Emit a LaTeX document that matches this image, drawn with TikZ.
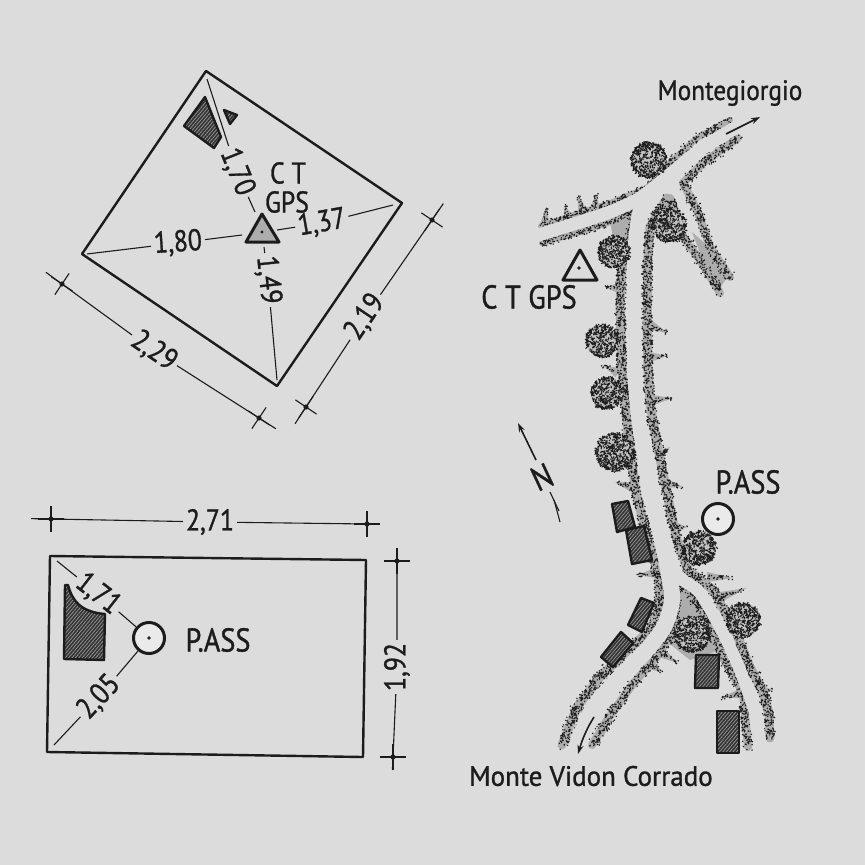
\documentclass[tikz,border=0pt]{standalone}
\usepackage{fontspec}
\setmainfont[FakeStretch=0.86,FakeBold=1]{PT Sans}
\usetikzlibrary{arrows.meta,patterns.meta,shapes.misc,calc}
\definecolor{paper}{HTML}{DCDCDC}
\definecolor{veg}{HTML}{ADADAD}
\definecolor{ink}{HTML}{1C1C1C}
\tikzset{
  plotline/.style={draw=ink,line width=2.4pt,line join=round},
  thinline/.style={draw=ink,line width=1.1pt},
  dimlabel/.style={font=\fontsize{30}{30}\selectfont,text=ink,inner sep=3pt},
  maplabel/.style={font=\fontsize{33}{33}\selectfont,text=ink,inner sep=0pt},
  tickmark/.style={cross out,draw=ink,line width=1.1pt,minimum size=17pt,inner sep=0pt},
  building/.style={draw=ink,line width=2.4pt,line join=round,preaction={fill=ink!90},
    pattern={Lines[angle=50,distance=2.6pt,line width=.7pt]},pattern color=paper!70!black},
  marker/.style={draw=ink,line width=3pt,line join=round},
  ctgps/.style={marker,fill=veg},
  pass/.style={circle,draw=ink,line width=3pt,fill=paper!60!white,minimum size=31pt,inner sep=0pt},
  pointer/.style={draw=ink,line width=1.6pt,-{Stealth[length=9pt,width=6pt]}},
  roadway/.style={draw=paper,line cap=round,line join=round},
}
\newcommand\tickat[4]{\node[tickmark,rotate=45+#4] (#1) at (#2,#3) {}; \fill[ink] (#1.center) circle (2.6);}
\newcommand\bandbg[4]{\foreach \x/\y [remember=\x as \ox (initially #2),remember=\y as \oy (initially #3)] in {#4}{
  \draw[veg,line width=#1pt,line cap=round] (\ox,\oy) -- (\x,\y);}}
\newcommand\bandst[4]{\foreach \x/\y [remember=\x as \ox (initially #2),remember=\y as \oy (initially #3)] in {#4}{
  \path (\ox,\oy) coordinate (sa) (\x,\y) coordinate (sb);
  \pgfpointdiff{\pgfpointanchor{sa}{center}}{\pgfpointanchor{sb}{center}}\pgfgetlastxy\dxx\dyy
  \pgfmathtruncatemacro\nn{max(2,veclen(\dxx,\dyy)*#1*0.32)}
  \fill[ink] \foreach \i in {1,...,\nn}{ ($(sa)!rnd!(sb)$) ++({rand*#1*0.6},{rand*#1*0.6}) circle (.8) };}}
\newcommand\spur[4]{\fill[veg] (#1,#2) -- ($(#3,#4)!5pt!90:(#1,#2)$) -- ($(#3,#4)!5pt!-90:(#1,#2)$) -- cycle;
  \bandst{3.5}{#1}{#2}{#3/#4}}
\newcommand\treeat[3]{\fill[veg!55!paper] (#1,#2) circle (#3);
  \pgfmathtruncatemacro\nna{#3*#3*1.1}
  \foreach \i in {1,...,\nna}{
    \pgfmathsetmacro\ra{#3*sqrt(rnd)}\pgfmathsetmacro\an{360*rnd}
    \draw[ink,line width=1pt] ({#1+\ra*cos(\an)},{#2+\ra*sin(\an)}) -- ++({rand*2.4},{rand*2.4});}
  \pgfmathtruncatemacro\nnb{#3*6}
  \foreach \i in {1,...,\nnb}{
    \pgfmathsetmacro\ra{#3*(.9+.1*rnd)}\pgfmathsetmacro\an{360*rnd}
    \draw[ink,line width=1pt] ({#1+\ra*cos(\an)},{#2+\ra*sin(\an)}) -- ++({rand*2.2},{rand*2.2});}}
\begin{document}
\begin{tikzpicture}[x=1pt,y=-1pt]
\pgfmathsetseed{11}
\useasboundingbox (0,0) rectangle (865,865);
\fill[paper] (0,0) rectangle (865,865);

% ---------- upper plan
\coordinate (qT) at (206,71);
\coordinate (qR) at (402,203);
\coordinate (qB) at (277,386);
\coordinate (qL) at (82,254);
\draw[plotline] (qT) -- (qR) -- (qB) -- (qL) -- cycle;
\draw[building] (205,97) -- (221,137) -- (214,148) -- (184,126) -- cycle;
\draw[building] (224,110) -- (237,115) -- (230,124) -- cycle;
\coordinate (gpsC) at (262,232);
\coordinate (gA) at (262,214);
\coordinate (gL) at (246,242);
\coordinate (gR) at (279,242);
\draw[ctgps] (gA) -- (gR) -- (gL) -- cycle;
\fill[ink] (gpsC) circle (1.6);
\node[dimlabel,rotate=-68] (d170) at (237,172) {1,70};
\node[dimlabel,rotate=4] (d180) at (178,243) {1,80};
\node[dimlabel,rotate=10] (d137) at (322,223) {1,37};
\node[dimlabel,rotate=-84] (d149) at (268,280) {1,49};
\coordinate (qT') at (207,79);
\coordinate (qL') at (87,254);
\coordinate (qR') at (393,205);
\coordinate (qB') at (277,380);
\coordinate (g1) at (255,212);
\coordinate (g2) at (242,235);
\coordinate (g3) at (277,230);
\coordinate (g4) at (264,247);
\draw[thinline] (qT') -- (d170) -- (g1);
\draw[thinline] (qL') -- (d180) -- (g2);
\draw[thinline] (qR') -- (d137) -- (g3);
\draw[thinline] (qB') -- (d149) -- (g4);
\node[dimlabel,inner sep=0pt] (ct) at (288,173) {C T};
\node[dimlabel,inner sep=0pt] (gps) at (287,202) {GPS};
\tickat{t1}{62}{284}{-34}
\tickat{t2}{259}{418}{-34}
\tickat{t3}{306}{407}{56}
\tickat{t4}{432}{220}{56}
\node[dimlabel,rotate=-34] (d229) at (154,351) {2,29};
\node[dimlabel,rotate=56] (d219) at (365,317) {2,19};
\draw[thinline] ($(t1.center)!-20pt!(d229.center)$) -- (d229) -- ($(t2.center)!-20pt!(d229.center)$);
\draw[thinline] ($(t3.center)!-20pt!(d219.center)$) -- (d219) -- ($(t4.center)!-20pt!(d219.center)$);

% ---------- lower plan
\coordinate (rTL) at (50,556);
\coordinate (rTR) at (366,560);
\coordinate (rBR) at (363,757);
\coordinate (rBL) at (47,752);
\draw[plotline] (rTL) -- (rTR) -- (rBR) -- (rBL) -- cycle;
\draw[building] (65,585) -- (68,585) .. controls (72,600) and (80,612) .. (105,614) -- (104,660) -- (64,659) -- cycle;
\node[pass] (passA) at (149,638) {};
\fill[ink] (passA.center) circle (1.8);
\node[maplabel] (passAl) at (218,640) {P.ASS};
\node[dimlabel,rotate=-38] (d171) at (98,594) {1,71};
\node[dimlabel,rotate=47] (d205) at (99,697) {2,05};
\coordinate (rTL') at (57,561);
\coordinate (rBL') at (54,745);
\draw[thinline] (rTL') -- (d171) -- (passA);
\draw[thinline] (rBL') -- (d205) -- (passA);
\tickat{t5}{51}{519}{0}
\tickat{t6}{367}{524}{0}
\tickat{t7}{397}{561}{90}
\tickat{t8}{393}{757}{90}
\node[dimlabel] (d271) at (210,522) {2,71};
\node[dimlabel,rotate=90] (d192) at (397,667) {1,92};
\draw[thinline] ($(t5.center)!-20pt!(d271.center)$) -- (d271) -- ($(t6.center)!-11pt!(d271.center)$);
\draw[thinline] ($(t7.center)!-10pt!(d192.center)$) -- (d192) -- ($(t8.center)!-13pt!(d192.center)$);

% ---------- map: vegetation ground
\fill[veg] (670,198) -- (650,226) -- (665,240) -- (683,236) -- cycle;
\fill[veg] (692,232) -- (702,258) -- (720,288) -- (728,276) -- (710,248) -- cycle;
\fill[veg] (680,585) -- (665,640) -- (690,660) -- (720,650) -- (705,615) -- cycle;
\fill[veg] (610,222) -- (642,207) -- (630,240) -- (618,262) -- cycle;
\bandbg{6}{541}{226}{577/214,613/202,647/188,670/163,697/138,730/120}
\bandbg{6}{542}{243}{577/233,610/222,640/208}
\bandbg{9}{636}{212}{630/237,622/270,620/303,621/337,622/370,625/403,628/433,636/493,648/540,659/577,660/607,650/630,628/650,600/677,577/707,562/745}
\bandbg{9}{667}{198}{650/227,647/270,647/320,648/370,650/403,655/433,667/493,677/540,688/570,713/590,735/630,749/665,762/690,769/713,770/738}
\bandbg{8}{680}{582}{673/630,660/653,632/685,607/720,592/745}
\bandbg{8}{682}{582}{703/613,723/657,743/693,748/747}
\bandbg{8}{738}{138}{703/163,683/183,697/210,710/247,730/277}
\bandbg{8}{670}{198}{683/237,700/260,720/293}
% spurs
\foreach \a/\b/\c/\d in {546/208/545/224,565/205/568/218,578/196/583/212,596/194/595/209,
  667/333/650/325,667/356/650/357,673/398/653/400,603/365/618/373,605/287/618/288,
  670/447/657/457,683/487/665/483,687/527/675/527,615/482/632/487,638/575/655/573,
  677/663/662/653,733/578/707/577,747/588/720/597,773/690/760/690,720/698/743/693,592/677/606/674,
  570/712/582/708,608/727/600/733,663/672/650/665}{
  \spur{\a}{\b}{\c}{\d}
}
\bandst{6}{541}{226}{577/214,613/202,647/188,670/163,697/138,730/120}
\bandst{6}{542}{243}{577/233,610/222,640/208}
\bandst{9}{636}{212}{630/237,622/270,620/303,621/337,622/370,625/403,628/433,636/493,648/540,659/577,660/607,650/630,628/650,600/677,577/707,562/745}
\bandst{9}{667}{198}{650/227,647/270,647/320,648/370,650/403,655/433,667/493,677/540,688/570,713/590,735/630,749/665,762/690,769/713,770/738}
\bandst{8}{680}{582}{673/630,660/653,632/685,607/720,592/745}
\bandst{8}{682}{582}{703/613,723/657,743/693,748/747}
\bandst{8}{738}{138}{703/163,683/183,697/210,710/247,730/277}
\bandst{8}{670}{198}{683/237,700/260,720/293}
% carriageways
\draw[roadway,line width=13pt] plot[smooth] coordinates {(532,237) (577,223) (610,212) (640,198) (668,176) (700,150) (745,122)};
\draw[roadway,line width=13pt] plot[smooth] coordinates {(652,192) (639,212) (634,250) (633,300) (634,370) (636,403) (640,433) (651,493)};
\draw[roadway,line width=16pt] plot[smooth] coordinates {(651,493) (662,540) (669,575) (672,600) (664,627) (644,653) (617,680) (591,712) (574,755)};
\draw[roadway,line width=12pt] plot[smooth] coordinates {(668,560) (680,578) (700,593) (723,633) (740,670) (756,717) (762,760)};
% trees
\treeat{649}{160}{18}
\treeat{669}{225}{17}
\treeat{614}{252}{16}
\treeat{602}{341}{16}
\treeat{607}{393}{16}
\treeat{615}{452}{19}
\treeat{699}{548}{17}
\treeat{743}{620}{17}
\treeat{692}{634}{18}
% buildings
\draw[building] (612,504) -- (628,501) -- (635,527) -- (617,532) -- cycle;
\draw[building] (626,530) -- (644,526) -- (652,560) -- (632,564) -- cycle;
\draw[building] (641,598) -- (654,603) -- (642,632) -- (628,625) -- cycle;
\draw[building] (621,632) -- (633,643) -- (613,667) -- (601,657) -- cycle;
\draw[building] (696,655) -- (719,655) -- (718,688) -- (695,688) -- cycle;
\draw[building] (717,711) -- (739,711) -- (739,753) -- (717,753) -- cycle;
% markers and labels
\coordinate (mA) at (580,250);
\coordinate (mL) at (563,280);
\coordinate (mR) at (597,280);
\draw[marker,fill=paper] (mA) -- (mR) -- (mL) -- cycle;
\fill[ink] (579,268) circle (1.8);
\node[maplabel] (ctgpsl) at (529,297) {C T GPS};
\node[pass] (passB) at (718,519) {};
\fill[ink] (passB.center) circle (1.8);
\node[maplabel] (passBl) at (748,482) {P.ASS};
\node[maplabel,font=\fontsize{28}{28}\selectfont,xscale=1.05] (monteg) at (730,93) {Montegiorgio};
\node[maplabel,font=\fontsize{28}{28}\selectfont,xscale=1.12] (montev) at (591,776) {Monte Vidon Corrado};
\coordinate (a1s) at (726,134);
\coordinate (a1e) at (760,117);
\coordinate (a2s) at (594,717);
\coordinate (a2e) at (578,754);
\draw[pointer] (a1s) -- (a1e);
\draw[pointer] (a2s) .. controls (587,728) and (582,740) .. (a2e);
% north
\coordinate (ns) at (536,460);
\coordinate (ne) at (518,423);
\draw[pointer] (ns) -- (ne);
\node[maplabel,font=\fontsize{34}{34}\selectfont,rotate=25] (north) at (542,477) {N};
\coordinate (n1a) at (550,492);
\coordinate (n1b) at (559,511);
\coordinate (n2a) at (554,500);
\coordinate (n2b) at (560,522);
\draw[thinline] (n1a) -- (n1b);
\draw[thinline] (n2a) -- (n2b);
\end{tikzpicture}
\end{document}
